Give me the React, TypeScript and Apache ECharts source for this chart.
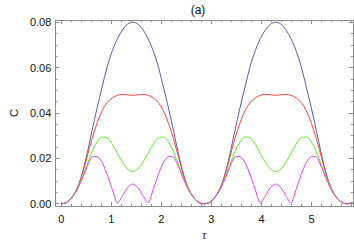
import React, { useEffect, useRef } from "react";
import * as echarts from "echarts";

const tau = [0, 0.102, 0.204, 0.306, 0.408, 0.51, 0.612, 0.714, 0.816, 0.918, 1.02, 1.122, 1.224, 1.326, 1.428, 1.53, 1.632, 1.734, 1.836, 1.938, 2.04, 2.142, 2.244, 2.346, 2.448, 2.55, 2.652, 2.754, 2.856, 2.958, 3.06, 3.162, 3.264, 3.366, 3.468, 3.57, 3.672, 3.774, 3.876, 3.978, 4.08, 4.182, 4.284, 4.386, 4.488, 4.59, 4.692, 4.794, 4.896, 4.998, 5.1, 5.202, 5.304, 5.406, 5.508, 5.61, 5.712, 5.814];

const blueC = [0, 0.0005, 0.0026, 0.0063, 0.0125, 0.0215, 0.032, 0.0422, 0.0515, 0.0605, 0.0675, 0.0728, 0.0767, 0.0792, 0.08,
  0.0792, 0.0767, 0.0728, 0.0675, 0.0605, 0.0515, 0.0422, 0.032, 0.0215, 0.0125, 0.0063, 0.0026, 0.0005, 0,
  0.0005, 0.0026, 0.0063, 0.0125, 0.0215, 0.032, 0.0422, 0.0515, 0.0605, 0.0675, 0.0728, 0.0767, 0.0792, 0.08,
  0.0792, 0.0767, 0.0728, 0.0675, 0.0605, 0.0515, 0.0422, 0.032, 0.0215, 0.0125, 0.0063, 0.0026, 0.0005, 0,
  0.0005];

const redC = [0, 0.0005, 0.0026, 0.0062, 0.0122, 0.0202, 0.0285, 0.0355, 0.041, 0.0446, 0.0467, 0.0478, 0.0482, 0.048, 0.0478,
  0.048, 0.0482, 0.0478, 0.0467, 0.0446, 0.041, 0.0355, 0.0285, 0.0202, 0.0122, 0.0062, 0.0026, 0.0005, 0,
  0.0005, 0.0026, 0.0062, 0.0122, 0.0202, 0.0285, 0.0355, 0.041, 0.0446, 0.0467, 0.0478, 0.0482, 0.048, 0.0478,
  0.048, 0.0482, 0.0478, 0.0467, 0.0446, 0.041, 0.0355, 0.0285, 0.0202, 0.0122, 0.0062, 0.0026, 0.0005, 0,
  0.0005];

const greenC = [0, 0.0005, 0.0026, 0.006, 0.0112, 0.017, 0.0228, 0.0272, 0.0294, 0.029, 0.0262, 0.0222, 0.0182, 0.0153, 0.0142,
  0.0153, 0.0182, 0.0222, 0.0262, 0.029, 0.0294, 0.0272, 0.0228, 0.017, 0.0112, 0.006, 0.0026, 0.0005, 0,
  0.0005, 0.0026, 0.006, 0.0112, 0.017, 0.0228, 0.0272, 0.0294, 0.029, 0.0262, 0.0222, 0.0182, 0.0153, 0.0142,
  0.0153, 0.0182, 0.0222, 0.0262, 0.029, 0.0294, 0.0272, 0.0228, 0.017, 0.0112, 0.006, 0.0026, 0.0005, 0,
  0.0005];

const magentaC = [0, 0.0005, 0.0025, 0.0057, 0.0105, 0.016, 0.0206, 0.0208, 0.0182, 0.0128, 0.0062, 0.0002, 0.0035, 0.0072, 0.0087,
  0.0072, 0.0035, 0.0002, 0.0062, 0.0128, 0.0182, 0.0208, 0.0206, 0.016, 0.0105, 0.0057, 0.0025, 0.0005, 0,
  0.0005, 0.0025, 0.0057, 0.0105, 0.016, 0.0206, 0.0208, 0.0182, 0.0128, 0.0062, 0.0002, 0.0035, 0.0072, 0.0087,
  0.0072, 0.0035, 0.0002, 0.0062, 0.0128, 0.0182, 0.0208, 0.0206, 0.016, 0.0105, 0.0057, 0.0025, 0.0005, 0,
  0.0005];

const xTicks = [0, 1, 2, 3, 4, 5];
const yTicks = [0, 0.02, 0.04, 0.06, 0.08];
const yTickLabels = ["0.00", "0.02", "0.04", "0.06", "0.08"];

const seriesDefs = [
  { name: "blue", values: blueC, color: "#5c5cae", smooth: 0.35 },
  { name: "red", values: redC, color: "#ff4444", smooth: 0.35 },
  { name: "green", values: greenC, color: "#5fea2e", smooth: 0.35 },
  { name: "magenta", values: magentaC, color: "#e040f0", smooth: 0.2 },
];

const gray = "#8c8c8c";
const labelFont = "Liberation Sans";

export default function App() {
  const ref = useRef<HTMLDivElement>(null);
  useEffect(() => {
    if (!ref.current) return;
    const chart = echarts.init(ref.current, null, { renderer: "svg" });
    const xCommon = {
      type: "value",
      min: -0.12,
      max: 5.83,
      splitNumber: 5,
      splitLine: { show: false },
      axisLine: { show: true, onZero: false, lineStyle: { color: gray, width: 1 } },
      axisTick: { show: true, inside: true, length: 4, customValues: xTicks, lineStyle: { color: gray } },
      minorTick: { show: true, splitNumber: 5, length: 2, lineStyle: { color: gray } },
    };
    const yCommon = {
      type: "value",
      min: -0.001,
      max: 0.081,
      splitNumber: 4,
      splitLine: { show: false },
      axisLine: { show: true, onZero: false, lineStyle: { color: gray, width: 1 } },
      axisTick: { show: true, inside: true, length: 4, customValues: yTicks, lineStyle: { color: gray } },
      minorTick: { show: true, splitNumber: 4, length: 2, lineStyle: { color: gray } },
    };
    chart.setOption({
      animation: false,
      backgroundColor: "#ffffff",
      grid: { left: 43, right: 1, top: 20, bottom: 35, containLabel: false },
      graphic: [
        {
          type: "text",
          x: 198,
          y: 10,
          style: { text: "(a)", fontSize: 12, fontFamily: labelFont, fill: "#111", textAlign: "center", textVerticalAlign: "middle" },
        },
      ],
      xAxis: [
        {
          ...xCommon,
          position: "bottom",
          axisLabel: { show: true, customValues: xTicks, color: "#111", fontSize: 11, fontFamily: labelFont, margin: 7 },
          name: "τ",
          nameLocation: "middle",
          nameGap: 23,
          nameTextStyle: { fontSize: 12, fontStyle: "italic", fontFamily: "Liberation Serif", color: "#111" },
        },
        {
          ...xCommon,
          position: "top",
          axisLabel: { show: false },
        },
      ],
      yAxis: [
        {
          ...yCommon,
          position: "left",
          axisLabel: {
            show: true,
            customValues: yTicks,
            color: "#111",
            fontSize: 11,
            fontFamily: labelFont,
            margin: 4,
            formatter: (v: number) => {
              const i = yTicks.findIndex((t) => Math.abs(t - v) < 1e-9);
              return i >= 0 ? yTickLabels[i] : "";
            },
          },
          name: "C",
          nameLocation: "middle",
          nameGap: 29,
          nameTextStyle: { fontSize: 11, fontFamily: labelFont, color: "#111" },
        },
        {
          ...yCommon,
          position: "right",
          axisLabel: { show: false },
        },
      ],
      series: seriesDefs.map((s) => ({
        name: s.name,
        type: "line",
        xAxisIndex: 0,
        yAxisIndex: 0,
        showSymbol: false,
        smooth: s.smooth,
        lineStyle: { color: s.color, width: 1 },
        itemStyle: { color: s.color },
        data: tau.map((t, i) => [t, s.values[i]]),
      })),
    });
    return () => chart.dispose();
  }, []);
  return <div ref={ref} style={{ position: "fixed", left: 0, top: 0, width: 354, height: 246 }} />;
}
